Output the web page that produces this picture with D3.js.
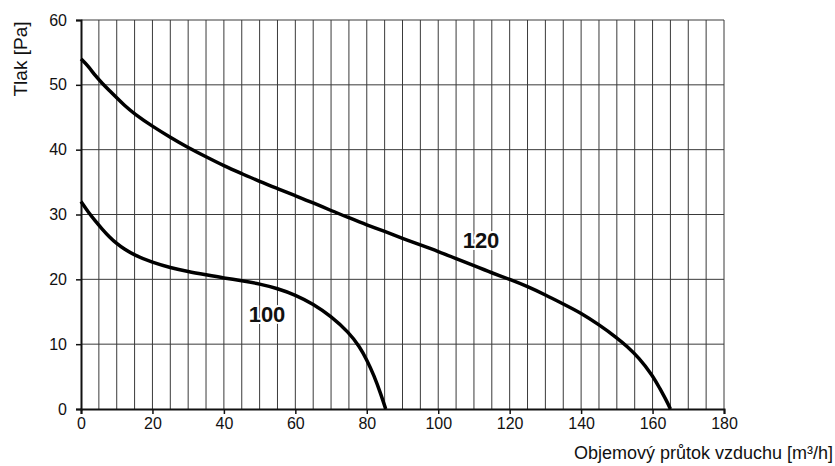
<!DOCTYPE html>
<html>
<head>
<meta charset="utf-8">
<script src="https://cdn.jsdelivr.net/npm/d3@7"></script>
<style>
body { margin: 0; background: #fff; }
text { font-family: Arial, "Liberation Sans", sans-serif; fill: #111; }
</style>
</head>
<body>
<div class="container"></div>
<script>
// fan curves: pressure [Pa] vs air flow [m3/h]
var q120 = [0, 2, 4, 6, 8, 10, 12, 15, 20, 25, 30, 35, 40, 45, 50, 55, 60, 65, 70, 75, 80, 85, 90, 95, 100, 105, 110, 115, 120, 125, 130, 135, 140, 145, 150, 153, 156, 160, 162, 164, 165];
var p120 = [54, 52.9, 51.4, 50.2, 49.1, 48.0, 46.9, 45.5, 43.6, 41.9, 40.3, 38.9, 37.5, 36.3, 35.1, 34.0, 32.9, 31.8, 30.6, 29.5, 28.4, 27.4, 26.3, 25.3, 24.3, 23.2, 22.1, 21.0, 20.0, 18.9, 17.6, 16.2, 14.8, 13.0, 11.0, 9.6, 8.0, 5.2, 3.2, 1.2, 0];

var q100 = [0, 2, 4, 6, 8, 10, 12, 15, 20, 25, 30, 35, 40, 45, 50, 55, 60, 65, 70, 75, 78, 80, 82, 84, 85.3];
var p100 = [32, 30.4, 29.0, 27.7, 26.5, 25.5, 24.7, 23.7, 22.6, 21.8, 21.2, 20.7, 20.2, 19.8, 19.3, 18.6, 17.6, 16.2, 14.3, 11.8, 9.6, 7.6, 5.2, 2.2, 0];

var xTicks = [0, 20, 40, 60, 80, 100, 120, 140, 160, 180];
var yTicks = [0, 10, 20, 30, 40, 50, 60];

var chart = {
	width: 835,
	height: 466,
	left: 81,
	right: 724,
	top: 20,
	bottom: 409
};

var x = d3.scaleLinear().domain([0, 180]).range([chart.left, chart.right]);
var y = d3.scaleLinear().domain([0, 60]).range([chart.bottom, chart.top]);

var svg = d3.select(".container")
.append("svg")
.attr("width", chart.width)
.attr("height", chart.height);

// grid: vertical every 5, horizontal every 10
var grid = svg.append("g").attr("stroke", "#3a3a3a").attr("stroke-width", 1);
grid.selectAll("line.v").data(d3.range(5, 181, 5)).enter().append("line")
.attr("x1", function(d){return x(d);}).attr("x2", function(d){return x(d);})
.attr("y1", y(0)).attr("y2", y(60));
grid.selectAll("line.h").data(d3.range(10, 61, 10)).enter().append("line")
.attr("x1", x(0)).attr("x2", x(180))
.attr("y1", function(d){return y(d);}).attr("y2", function(d){return y(d);});

var xAxis = svg.append("g")
.attr("transform", "translate(0," + chart.bottom + ")")
.call(d3.axisBottom(x).tickValues(xTicks).tickSize(5).tickPadding(4));
var yAxis = svg.append("g")
.attr("transform", "translate(" + chart.left + ",0)")
.call(d3.axisLeft(y).tickValues(yTicks).tickSize(5).tickPadding(9));

[xAxis, yAxis].forEach(function(a){
	a.select(".domain").attr("stroke", "#111").attr("stroke-width", 2);
	a.selectAll(".tick line").attr("stroke", "#111").attr("stroke-width", 1.5);
	a.selectAll(".tick text").attr("font-size", 16).attr("font-family", "Arial, 'Liberation Sans', sans-serif").attr("fill", "#111");
});

var line = d3.line()
.x(function(d){return x(d[0]);})
.y(function(d){return y(d[1]);})
.curve(d3.curveBasis);

var curves = [
	{name: "120", q: q120, p: p120, lx: 481, ly: 240},
	{name: "100", q: q100, p: p100, lx: 267, ly: 314}
];

svg.selectAll("path.curve").data(curves).enter().append("path")
.attr("class", "curve")
.attr("d", function(c){return line(d3.zip(c.q, c.p));})
.attr("fill", "none")
.attr("stroke", "#000")
.attr("stroke-width", 3.5)
.attr("stroke-linejoin", "round");

// curve labels have a white halo over the grid
svg.selectAll("text.lbl").data(curves).enter().append("text")
.attr("class", "lbl")
.attr("x", function(c){return c.lx;})
.attr("y", function(c){return c.ly;})
.attr("dy", "0.36em")
.attr("text-anchor", "middle")
.attr("font-size", 22)
.attr("font-weight", "bold")
.attr("stroke", "#fff")
.attr("stroke-width", 4)
.attr("paint-order", "stroke")
.text(function(c){return c.name;});

svg.append("text")
.attr("transform", "translate(27,59) rotate(-90)")
.attr("text-anchor", "middle")
.attr("font-size", 19)
.text("Tlak [Pa]");

svg.append("text")
.attr("x", 833)
.attr("y", 459)
.attr("text-anchor", "end")
.attr("font-size", 18)
.text("Objemový průtok vzduchu [m³/h]");
</script>
</body>
</html>
